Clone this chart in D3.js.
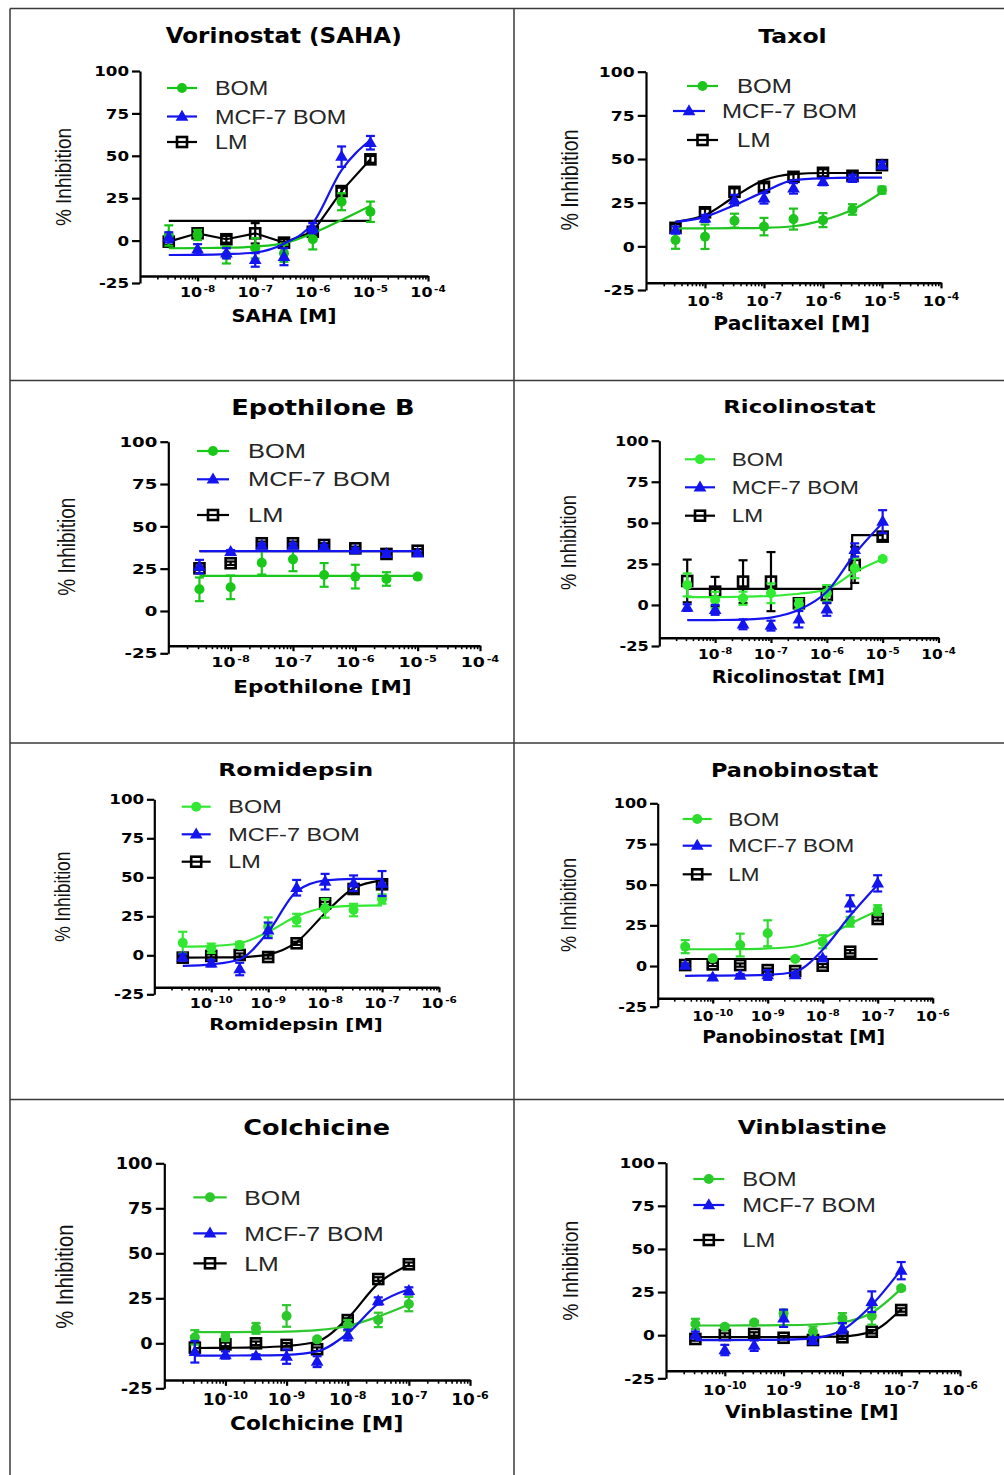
<!DOCTYPE html>
<html>
<head>
<meta charset="utf-8">
<script src="https://cdn.jsdelivr.net/npm/d3@7"></script>
<style>
body { margin: 0; background: #fff; }
svg { display: block; }
</style>
</head>
<body>
<script>
// % inhibition dose-response, 8 compounds x 3 cell lines (GraphPad style)

var seriesNames = ["BOM", "MCF-7 BOM", "LM"];
var yTicks = [-25, 0, 25, 50, 75, 100];

var microDomain = [1e-9, 1e-4];
var microTicks = [1e-8, 1e-7, 1e-6, 1e-5, 1e-4];
var microDoses = [3.16e-9, 1e-8, 3.16e-8, 1e-7, 3.16e-7, 1e-6, 3.16e-6, 1e-5];

var nanoDomain = [1e-11, 1e-6];
var nanoTicks = [1e-10, 1e-9, 1e-8, 1e-7, 1e-6];
var nanoDoses = [3.16e-11, 1e-10, 3.16e-10, 1e-9, 3.16e-9, 1e-8, 3.16e-8, 1e-7];

// Vorinostat (SAHA)
var sahaBom    = [3, 3.3, -8.5, -4.5, -7.5, 0.8, 22.9, 17];
var sahaBomErr = [6, 3, 5, 6, 5, 6, 5, 6];
var sahaBomFit = [-4.5, -4.4, -4.2, -3.5, -1.6, 4.3, 12.1, 20.4];
var sahaMcf    = [1.9, -5.1, -7.5, -11.4, -9.5, 7.3, 49.5, 57.7];
var sahaMcfErr = [3, 3, 3, 4, 5, 3, 6, 4];
var sahaMcfFit = [-8.5, -8.4, -8, -7, -1.8, 10.2, 41.6, 59.3];
var sahaLm     = [-0.6, 4.3, 0.8, 4.3, -1.2, 5.2, 29.2, 47.9];
var sahaLmErr  = [2, 2, 2, 6, 2, 2, 2, 2];
var sahaLmFit  = [11.6, 11.6, 11.6, 11.6, 11.6, 11.6, 11.6, 11.6];

// Taxol
var taxolBom    = [3.6, 5.5, 14.7, 11.3, 15.6, 15, 21.1, 32.2];
var taxolBomErr = [5, 7, 4, 5, 6, 4, 3, 2];
var taxolBomFit = [10.3, 10.3, 10.4, 10.6, 11.5, 15, 21, 31];
var taxolMcf    = [9.3, 16, 26.5, 27.5, 33.2, 37, 38.9, 46.5];
var taxolMcfErr = [2, 2, 3, 3, 3, 2, 2, 2];
var taxolMcfFit = [14, 16.9, 23.6, 31.2, 37.9, 39, 39.3, 39.3];
var taxolLm     = [10.6, 19.5, 31.2, 34.1, 39.8, 42.1, 40.4, 46.5];
var taxolLmErr  = [2, 2, 2, 2, 2, 2, 2, 2];
var taxolLmFit  = [14, 17.9, 28.4, 37.9, 41.4, 42, 42, 42];

// Epothilone B
var epoBom    = [12.8, 14, 28.5, 30.5, 21.3, 20.3, 18.9, 20.3];
var epoBomErr = [7, 7, 7, 7, 7, 7, 4, 1];
var epoBomFit = [20.7, 20.7, 20.7, 20.7, 20.7, 20.7, 20.7, 20.7];
var epoMcf    = [26.2, 35, 38.6, 38.6, 38, 36, 33.7, 34.1];
var epoMcfErr = [4, 1, 1, 1, 1, 1, 1, 1];
var epoMcfFit = [35.3, 35.3, 35.3, 35.3, 35.3, 35.3, 35.3, 35.3];
var epoLm     = [25.2, 28.2, 40, 40, 39, 37, 33.7, 35.6];
var epoLmErr  = [1, 1, 1, 1, 1, 1, 1, 1];
var epoLmFit  = [35.3, 35.3, 35.3, 35.3, 35.3, 35.3, 35.3, 35.3];

// Ricolinostat
var ricoBom    = [12.2, 3, 4.1, 7.1, 0.6, 7.1, 22.3, 28];
var ricoBomErr = [7, 5, 4, 6, 3, 5, 6, 1];
var ricoBomFit = [4.7, 4.8, 5, 5.5, 6.8, 9.6, 20, 28];
var ricoMcf    = [-1.6, -3, -11.8, -12.6, -8.7, -2.6, 33.5, 50.7];
var ricoMcfErr = [2, 3, 3, 3, 5, 4, 4, 7];
var ricoMcfFit = [-9.3, -9.2, -9, -7.7, -3, 8, 31, 50];
var ricoLm     = [14.6, 8.1, 14.2, 14.2, 1, 6.1, 24.4, 41.6];
var ricoLmErr  = [13, 9, 13, 18, 3, 5, 11, 2];
var ricoLmFitDose = [3.16e-9, 2.75e-6, 2.85e-6, 1e-5];
var ricoLmFit  = [9.8, 9.8, 42.5, 42.5];

// Romidepsin
var romiBom    = [8.1, 4.5, 6.6, 18.3, 22.6, 30.1, 29, 36.1];
var romiBomErr = [7, 3, 2, 6, 4, 6, 4, 3];
var romiBomFit = [5.5, 5.9, 7.7, 15, 25, 30.5, 31.7, 32];
var romiMcf    = [-1.3, -5.1, -8.8, 16, 43.3, 47.2, 46.2, 46];
var romiMcfErr = [2, 2, 4, 5, 5, 5, 5, 8];
var romiMcfFit = [-6.8, -5.8, -2.5, 15, 41, 48, 49, 49];
var romiLm     = [-1.5, -0.4, 0.2, -1.1, 7.7, 33.3, 42.5, 45.5];
var romiLmErr  = [1, 1, 1, 1, 1, 1, 2, 2];
var romiLmFit  = [-1.5, -1.4, -1.2, 0.6, 8.5, 27, 43, 48];

// Panobinostat
var panoBom    = [11.9, 4.7, 12.9, 20.1, 4.3, 14.9, 27.2, 34.4];
var panoBomErr = [4, 1, 7, 8, 1, 4, 3, 3];
var panoBomFit = [10.3, 10.3, 10.4, 10.8, 12, 17, 26, 34];
var panoMcf    = [0.2, -6.9, -5.9, -5.5, -5.5, 4.7, 38.5, 50.8];
var panoMcfErr = [1, 1, 1, 3, 1, 1, 5, 5];
var panoMcfFit = [-6, -5.9, -5.8, -5.4, -3.5, 10, 31, 50];
var panoLm     = [0.6, 1, 0.6, -2.5, -3.1, 0.2, 8.8, 28.9];
var panoLmErr  = [1, 1, 1, 1, 1, 1, 1, 1];
var panoLmFit  = [4.3, 4.3, 4.3, 4.3, 4.3, 4.3, 4.3, 4.3];

// Colchicine
var colBom    = [3.3, 3.3, 8.3, 15.2, 2.2, 10, 13, 21.8];
var colBomErr = [4, 2, 3, 6, 1, 3, 4, 4];
var colBomFit = [6.2, 6.2, 6.3, 6.5, 7.3, 9.6, 14.8, 21.5];
var colMcf    = [-4.7, -6.5, -7.1, -7.4, -10.2, 4.6, 23.5, 29.1];
var colMcfErr = [6, 2, 1, 4, 3, 3, 2, 2];
var colMcfFit = [-6.8, -6.8, -6.7, -6.4, -4.5, 5.5, 22, 30];
var colLm     = [-2.4, -0.6, 0, -0.9, -3.3, 12.9, 35.7, 43.9];
var colLmErr  = [3, 1, 1, 1, 1, 1, 1, 1];
var colLmFit  = [-2.6, -2.5, -2.3, -1.5, 1, 13.9, 33.3, 43.5];

// Vinblastine
var vinBom    = [6.5, 4.9, 7.3, 12.7, 2, 9.8, 11.1, 27.2];
var vinBomErr = [3, 1, 1, 2, 3, 3, 5, 1];
var vinBomFit = [5.6, 5.6, 5.7, 5.8, 6.2, 7.5, 13, 27];
var vinMcf    = [0.1, -8.6, -6.1, 9.8, -3.2, 4, 19.4, 37.4];
var vinMcfErr = [2, 3, 3, 5, 2, 3, 6, 5];
var vinMcfFit = [-2.9, -2.9, -2.8, -2.6, -1.8, 3, 17.5, 38];
var vinLm     = [-2.2, 0.1, 0.7, -1.5, -2.8, -1.2, 2, 14.6];
var vinLmErr  = [1, 1, 1, 1, 1, 1, 1, 1];
var vinLmFit  = [-1.1, -1.1, -1.1, -1.1, -1, -0.7, 2.2, 15];


var boldFont = "'DejaVu Sans', sans-serif";
var normFont = "'Liberation Sans', Arial, sans-serif";
var blue = "#1414ee";

var panels = [
  {title: "Vorinostat (SAHA)", xLabel: "SAHA [M]", domain: microDomain, ticks: microTicks, doses: microDoses,
   data: [[sahaBom, sahaBomErr, sahaBomFit], [sahaMcf, sahaMcfErr, sahaMcfFit], [sahaLm, sahaLmErr, sahaLmFit]],
   connectLm: true, green: "#18c418",
   ax: 140, xEnd: 428, yTop: 71, yBot: 283, xAxisY: 276, tickY: 297, sx: 1,
   titleX: 283.7, titleY: 43, titleW: 236, ts: 20.5, xLabX: 284, xLabY: 322, xLabW: 105, yLabX: 70.7, yLabY: 177,
   leg: [[167, 197, 215, 88], [167, 197, 215, 116.5], [167, 197, 215, 142]]},
  {title: "Taxol", xLabel: "Paclitaxel [M]", domain: microDomain, ticks: microTicks, doses: microDoses,
   data: [[taxolBom, taxolBomErr, taxolBomFit], [taxolMcf, taxolMcfErr, taxolMcfFit], [taxolLm, taxolLmErr, taxolLmFit]],
   green: "#1fc41f",
   ax: 646, xEnd: 941, yTop: 71.7, yBot: 290, xAxisY: 282.7, tickY: 306, sx: 1,
   titleX: 792.5, titleY: 43, titleW: 68.3, ts: 19, xLabX: 791.7, xLabY: 330, xLabW: 156.7, yLabX: 578.3, yLabY: 180,
   leg: [[687, 718, 737, 86], [673, 705, 722, 111], [687, 718, 737, 140]]},
  {title: "Epothilone B", xLabel: "Epothilone [M]", domain: microDomain, ticks: microTicks, doses: microDoses,
   data: [[epoBom, epoBomErr, epoBomFit], [epoMcf, epoMcfErr, epoMcfFit], [epoLm, epoLmErr, epoLmFit]],
   green: "#1ac81a",
   ax: 168.3, xEnd: 480, yTop: 441.7, yBot: 653.3, xAxisY: 645.7, tickY: 667, sx: 1.09,
   titleX: 323, titleY: 415, titleW: 183.3, ts: 20.5, xLabX: 322.5, xLabY: 693, xLabW: 178.3, yLabX: 75, yLabY: 546.7,
   leg: [[197, 229, 248, 451], [197, 229, 248, 479.3], [197, 229, 248, 515]]},
  {title: "Ricolinostat", xLabel: "Ricolinostat [M]", domain: microDomain, ticks: microTicks, doses: microDoses,
   data: [[ricoBom, ricoBomErr, ricoBomFit], [ricoMcf, ricoMcfErr, ricoMcfFit], [ricoLm, ricoLmErr, ricoLmFit, ricoLmFitDose]],
   green: "#33ea33",
   ax: 659.3, xEnd: 938.5, yTop: 440.7, yBot: 646, xAxisY: 637.7, tickY: 659.3, sx: 1,
   titleX: 799.5, titleY: 413.3, titleW: 152.3, ts: 18, xLabX: 798.3, xLabY: 683.3, xLabW: 173.3, yLabX: 576, yLabY: 542.5,
   leg: [[685, 715, 731.7, 459.3], [685, 715, 731.7, 487.3], [685, 715, 731.7, 515.7]]},
  {title: "Romidepsin", xLabel: "Romidepsin [M]", domain: nanoDomain, ticks: nanoTicks, doses: nanoDoses,
   data: [[romiBom, romiBomErr, romiBomFit], [romiMcf, romiMcfErr, romiMcfFit], [romiLm, romiLmErr, romiLmFit]],
   green: "#33e833",
   ax: 154.3, xEnd: 439, yTop: 799.3, yBot: 994.3, xAxisY: 987.3, tickY: 1008.3, sx: 1.09,
   titleX: 295.8, titleY: 776, titleW: 155, ts: 18.5, xLabX: 296, xLabY: 1030, xLabW: 173.3, yLabX: 70, yLabY: 896.7,
   leg: [[181.7, 210.7, 228.3, 806.7], [181.7, 210.7, 228.3, 834.3], [181.7, 210.7, 228.3, 861.7]]},
  {title: "Panobinostat", xLabel: "Panobinostat [M]", domain: nanoDomain, ticks: nanoTicks, doses: nanoDoses,
   data: [[panoBom, panoBomErr, panoBomFit], [panoMcf, panoMcfErr, panoMcfFit], [panoLm, panoLmErr, panoLmFit]],
   green: "#2edc2e",
   ax: 657.7, xEnd: 932.7, yTop: 803.3, yBot: 1006.7, xAxisY: 998.3, tickY: 1021, sx: 1,
   titleX: 794.7, titleY: 777.3, titleW: 167.3, ts: 19, xLabX: 793.7, xLabY: 1043.3, xLabW: 182.7, yLabX: 576, yLabY: 905,
   leg: [[682.7, 711.7, 728.3, 819], [682.7, 711.7, 728.3, 845.7], [682.7, 711.7, 728.3, 874.3]]},
  {title: "Colchicine", xLabel: "Colchicine [M]", domain: nanoDomain, ticks: nanoTicks, doses: nanoDoses,
   data: [[colBom, colBomErr, colBomFit], [colMcf, colMcfErr, colMcfFit], [colLm, colLmErr, colLmFit]],
   green: "#2cc82c",
   ax: 164.3, xEnd: 470, yTop: 1163.3, yBot: 1388.3, xAxisY: 1380, tickY: 1405, sx: 1,
   titleX: 316.7, titleY: 1135, titleW: 146.7, ts: 20.5, xLabX: 316.7, xLabY: 1430, xLabW: 173.3, yLabX: 72.7, yLabY: 1276.7,
   leg: [[193.3, 226.7, 244.3, 1197.3], [193.3, 226.7, 244.3, 1233.3], [193.3, 226.7, 244.3, 1263.3]]},
  {title: "Vinblastine", xLabel: "Vinblastine [M]", domain: nanoDomain, ticks: nanoTicks, doses: nanoDoses,
   data: [[vinBom, vinBomErr, vinBomFit], [vinMcf, vinMcfErr, vinMcfFit], [vinLm, vinLmErr, vinLmFit]],
   green: "#2bc82b",
   ax: 666, xEnd: 960, yTop: 1162.7, yBot: 1378.3, xAxisY: 1370.7, tickY: 1395, sx: 1,
   titleX: 812.2, titleY: 1134.3, titleW: 149, ts: 19.5, xLabX: 811.7, xLabY: 1418.3, xLabW: 173.3, yLabX: 578.3, yLabY: 1270.8,
   leg: [[693.3, 724.3, 742.3, 1179], [693.3, 724.3, 742.3, 1205], [693.3, 724.3, 742.3, 1240]]}
];


var svg = d3.select("body").append("svg")
.attr("width", 1004)
.attr("height", 1475);

svg.append("rect").attr("width", 1004).attr("height", 1475).attr("fill", "#fff");

// table grid
var grid = svg.append("g").attr("stroke", "#3a3a3a").attr("stroke-width", 1.5);
grid.append("line").attr("x1", 10).attr("x2", 1004).attr("y1", 8.5).attr("y2", 8.5);
grid.append("line").attr("x1", 10).attr("x2", 10).attr("y1", 8.5).attr("y2", 1475);
grid.append("line").attr("x1", 514).attr("x2", 514).attr("y1", 8.5).attr("y2", 1475);
[380.5, 743, 1099.5].forEach(function(yy) {
  grid.append("line").attr("x1", 10).attr("x2", 1004).attr("y1", yy).attr("y2", yy);
});


function stretched(g, x, y, sx, str) {
  return g.append("text")
  .attr("transform", "translate(" + x + "," + y + ") scale(" + sx + ",1)")
  .text(str);
}

function marker(g, kind, cx, cy, color) {
  if (kind == 0) {
    g.append("circle").attr("cx", cx).attr("cy", cy).attr("r", 5).attr("fill", color);
  } else if (kind == 1) {
    g.append("path").attr("d", d3.symbol(d3.symbolTriangle).size(70)())
    .attr("transform", "translate(" + cx + "," + (cy + 0.5) + ")").attr("fill", color);
  } else {
    g.append("rect").attr("x", cx - 5).attr("y", cy - 5).attr("width", 10).attr("height", 10)
    .attr("fill", "none").attr("stroke", color).attr("stroke-width", 2.6);
  }
}

function drawPanel(p) {
  var k = (p.yBot - p.yTop) / 212;
  var x = d3.scaleLog().domain(p.domain).range([p.ax, p.xEnd]);
  var y = d3.scaleLinear().domain([-25, 100]).range([p.yBot, p.yTop]);
  var colors = [p.green, blue, "#000"];
  var g = svg.append("g");

  // title
  g.append("text")
  .attr("x", p.titleX).attr("y", p.titleY)
  .attr("text-anchor", "middle")
  .attr("font-family", boldFont).attr("font-weight", "bold").attr("font-size", p.ts)
  .attr("textLength", p.titleW).attr("lengthAdjust", "spacingAndGlyphs")
  .text(p.title);

  // y axis
  var yAxisGroup = g.append("g")
  .attr("transform", "translate(" + p.ax + ",0)")
  .call(d3.axisLeft(y).tickValues(yTicks).tickSize(8 * k).tickSizeOuter(0).tickFormat(""));
  yAxisGroup.selectAll("path, line").attr("stroke", "#000").attr("stroke-width", 2.2);

  var yLabels = g.append("g")
  .attr("font-family", boldFont).attr("font-weight", "bold").attr("font-size", 14.5 * k)
  .attr("text-anchor", "end");
  yTicks.forEach(function(t) {
    stretched(yLabels, p.ax - 11 * k, y(t) + 5.2 * k, 1.15 * p.sx, t);
  });

  // x axis: minor then major ticks
  var minor = x.ticks().filter(function(t) {
    var e = Math.log10(t);
    return Math.abs(e - Math.round(e)) > 1e-6;
  });
  var minorGroup = g.append("g")
  .attr("transform", "translate(0," + p.xAxisY + ")")
  .call(d3.axisBottom(x).tickValues(minor).tickSize(3.5 * k).tickSizeOuter(0).tickFormat(""));
  minorGroup.select(".domain").attr("stroke", "#000").attr("stroke-width", 2.4);
  minorGroup.selectAll(".tick line").attr("stroke", "#000").attr("stroke-width", 1.6);

  var majorGroup = g.append("g")
  .attr("transform", "translate(0," + p.xAxisY + ")")
  .call(d3.axisBottom(x).tickValues(p.ticks).tickSize(5.5 * k).tickSizeOuter(0).tickFormat(""));
  majorGroup.select(".domain").remove();
  majorGroup.selectAll(".tick line").attr("stroke", "#000").attr("stroke-width", 2.2);

  var xLabels = g.append("g")
  .attr("font-family", boldFont).attr("font-weight", "bold").attr("text-anchor", "middle");
  p.ticks.forEach(function(t) {
    var lab = stretched(xLabels, x(t), p.tickY, 1.1 * p.sx, "");
    lab.append("tspan").attr("font-size", 14.5 * k).text("10");
    lab.append("tspan").attr("font-size", 9.5 * k).attr("dx", 1.5).attr("dy", -5.5 * k)
    .text(String(Math.round(Math.log10(t))));
  });

  // axis titles
  g.append("text")
  .attr("x", p.xLabX).attr("y", p.xLabY)
  .attr("text-anchor", "middle")
  .attr("font-family", boldFont).attr("font-weight", "bold").attr("font-size", 18 * k)
  .attr("textLength", p.xLabW).attr("lengthAdjust", "spacingAndGlyphs")
  .text(p.xLabel);

  g.append("text")
  .attr("transform", "translate(" + p.yLabX + "," + p.yLabY + ") scale(" + (1.18 * p.sx) + ",1) rotate(-90)")
  .attr("text-anchor", "middle")
  .attr("font-family", normFont).attr("font-size", 19 * k).attr("fill", "#111")
  .text("% Inhibition");

  // legend
  var legend = g.append("g");
  seriesNames.forEach(function(name, i) {
    var L = p.leg[i];
    legend.append("line").attr("x1", L[0]).attr("x2", L[1]).attr("y1", L[3]).attr("y2", L[3])
    .attr("stroke", colors[i]).attr("stroke-width", 2.2);
    marker(legend, i, (L[0] + L[1]) / 2, L[3], colors[i]);
    stretched(legend, L[2], L[3] + 7 * k, 1.2 * p.sx, name)
    .attr("font-family", normFont).attr("font-size", 19.5 * k).attr("fill", "#262626");
  });

  // data: LM first, then BOM, MCF-7 BOM on top
  [2, 0, 1].forEach(function(i) {
    var vals = p.data[i][0], errs = p.data[i][1], fit = p.data[i][2];
    var fitDose = p.data[i][3] || p.doses;
    var col = colors[i];

    var fitLine = d3.line()
    .x(function(d, j) { return x(fitDose[j]); })
    .y(function(d) { return y(d); })
    .curve(p.data[i][3] ? d3.curveLinear : d3.curveMonotoneX);

    g.append("path")
    .attr("d", fitLine(fit))
    .attr("fill", "none").attr("stroke", col).attr("stroke-width", 2.2);

    if (i == 2 && p.connectLm) {
      var joinLine = d3.line()
      .x(function(d, j) { return x(p.doses[j]); })
      .y(function(d) { return y(d); });
      g.append("path")
      .attr("d", joinLine(vals))
      .attr("fill", "none").attr("stroke", col).attr("stroke-width", 2.2);
    }

    vals.forEach(function(v, j) {
      var cx = x(p.doses[j]);
      var e = errs[j];
      g.append("line").attr("x1", cx).attr("x2", cx).attr("y1", y(v - e)).attr("y2", y(v + e))
      .attr("stroke", col).attr("stroke-width", 2.2);
      [v - e, v + e].forEach(function(c) {
        g.append("line").attr("x1", cx - 4.5).attr("x2", cx + 4.5).attr("y1", y(c)).attr("y2", y(c))
        .attr("stroke", col).attr("stroke-width", 2.2);
      });
      marker(g, i, cx, y(v), col);
    });
  });
}

panels.forEach(drawPanel);
</script>
</body>
</html>
